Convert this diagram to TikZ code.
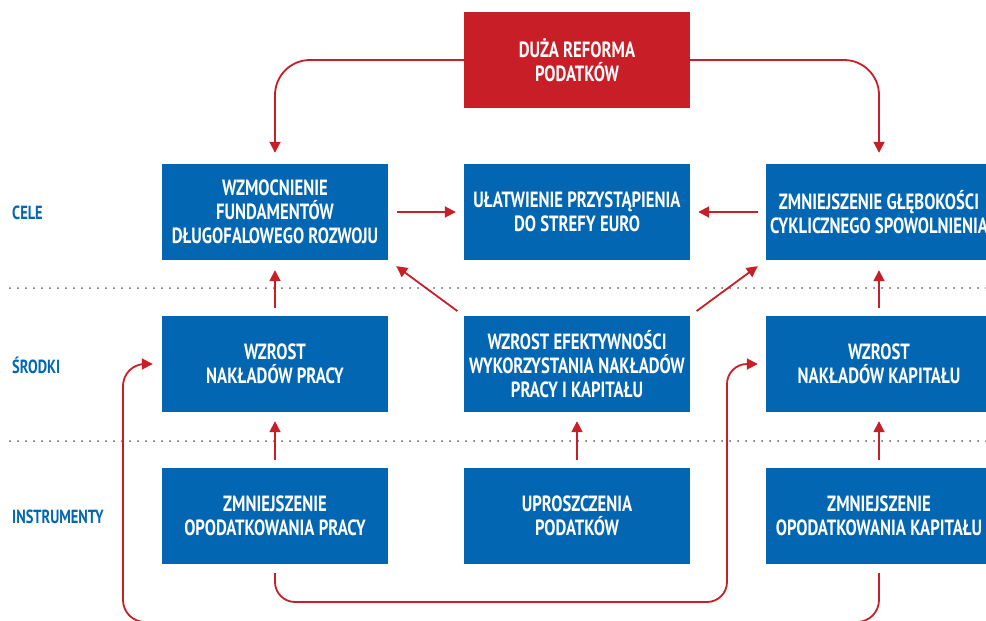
\documentclass[tikz,border=0pt]{standalone}
\usepackage{fontspec}
\newfontfamily\cond{PT Sans}[FakeStretch=0.76]
\usetikzlibrary{arrows.meta}
\definecolor{boxblue}{RGB}{2,102,178}
\definecolor{boxred}{RGB}{200,30,40}
\definecolor{linkred}{RGB}{200,30,40}
\definecolor{dotgrey}{RGB}{95,95,95}
\tikzset{
  panel/.style={fill=boxblue, draw=none, minimum width=226pt, minimum height=96pt,
    inner sep=0pt, align=center, text=white,
    font=\cond\bfseries\fontsize{22}{24}\selectfont},
  headpanel/.style={panel, fill=boxred},
  rowlabel/.style={anchor=west, inner sep=0pt, text=boxblue,
    font=\cond\bfseries\fontsize{19}{20}\selectfont},
  link/.style={draw=linkred, line width=1.8pt,
    -{Triangle[length=11pt,width=11pt]}},
  divider/.style={draw=dotgrey, line width=2pt, line cap=round,
    dash pattern=on 0pt off 8pt}
}
\begin{document}
\begin{tikzpicture}[x=1pt,y=-1pt]
\useasboundingbox (0,0) rectangle (986,621);

% layer dividers
\coordinate (d1a) at (10,288);  \coordinate (d1b) at (986,288);
\coordinate (d2a) at (10,441);  \coordinate (d2b) at (986,441);
\draw[divider] (d1a) -- (d1b);
\draw[divider] (d2a) -- (d2b);

% row labels
\node[rowlabel] (lcele) at (12,213) {CELE};
\node[rowlabel] (lsrod) at (12,365) {ŚRODKI};
\node[rowlabel] (linst) at (12,517) {INSTRUMENTY};

% top: the reform
\node[headpanel] (ref) at (577,60) {DUŻA REFORMA\\PODATKÓW};

% goals
\node[panel] (g1) at (275,212) {WZMOCNIENIE\\FUNDAMENTÓW\\DŁUGOFALOWEGO ROZWOJU};
\node[panel] (g2) at (577,212) {UŁATWIENIE PRZYSTĄPIENIA\\DO STREFY EURO};
\node[panel] (g3) at (879,212) {ZMNIEJSZENIE GŁĘBOKOŚCI\\CYKLICZNEGO SPOWOLNIENIA};

% means
\node[panel] (m1) at (275,364) {WZROST\\NAKŁADÓW PRACY};
\node[panel] (m2) at (577,364) {WZROST EFEKTYWNOŚCI\\WYKORZYSTANIA NAKŁADÓW\\PRACY I KAPITAŁU};
\node[panel] (m3) at (879,364) {WZROST\\NAKŁADÓW KAPITAŁU};

% instruments
\node[panel] (i1) at (275,516) {ZMNIEJSZENIE\\OPODATKOWANIA PRACY};
\node[panel] (i2) at (577,516) {UPROSZCZENIA\\PODATKÓW};
\node[panel] (i3) at (879,516) {ZMNIEJSZENIE\\OPODATKOWANIA KAPITAŁU};

% reform feeds both outer goals
\draw[link, rounded corners=35pt, shorten >=11pt] (ref.west) -| (g1.north);
\draw[link, rounded corners=35pt, shorten >=11pt] (ref.east) -| (g3.north);

% goals feed the euro goal
\draw[link, shorten <=9pt, shorten >=8pt] (g1.east) -- (g2.west);
\draw[link, shorten <=8pt, shorten >=8pt] (g3.west) -- (g2.east);

% means to goals
\draw[link, shorten <=8pt, shorten >=10pt] (m1.north) -- (g1.south);
\draw[link, shorten <=8pt, shorten >=10pt] (m3.north) -- (g3.south);
\draw[link, shorten <=8pt, shorten >=10pt] (m2.north west) -- (g1.south east);
\draw[link, shorten <=8pt, shorten >=10pt] (m2.north east) -- (g3.south west);

% instruments to means
\draw[link, shorten <=8pt, shorten >=9pt] (i1.north) -- (m1.south);
\draw[link, shorten <=8pt, shorten >=9pt] (i2.north) -- (m2.south);
\draw[link, shorten <=8pt, shorten >=9pt] (i3.north) -- (m3.south);

% cross links below the instruments
\coordinate (outerbot) at (0,622);
\coordinate (innerbot) at (0,602);
\coordinate (outerx) at (123,0);
\coordinate (innerx) at (727,0);
\draw[link, rounded corners=22pt, shorten <=9pt, shorten >=9pt]
  (i3.south) -- (i3.south |- outerbot) -- (outerx |- outerbot)
  -- (outerx |- m1.west) -- (m1.west);
\draw[link, rounded corners=20pt, shorten <=9pt, shorten >=8pt]
  (i1.south) -- (i1.south |- innerbot) -- (innerx |- innerbot)
  -- (innerx |- m3.west) -- (m3.west);
\end{tikzpicture}
\end{document}
